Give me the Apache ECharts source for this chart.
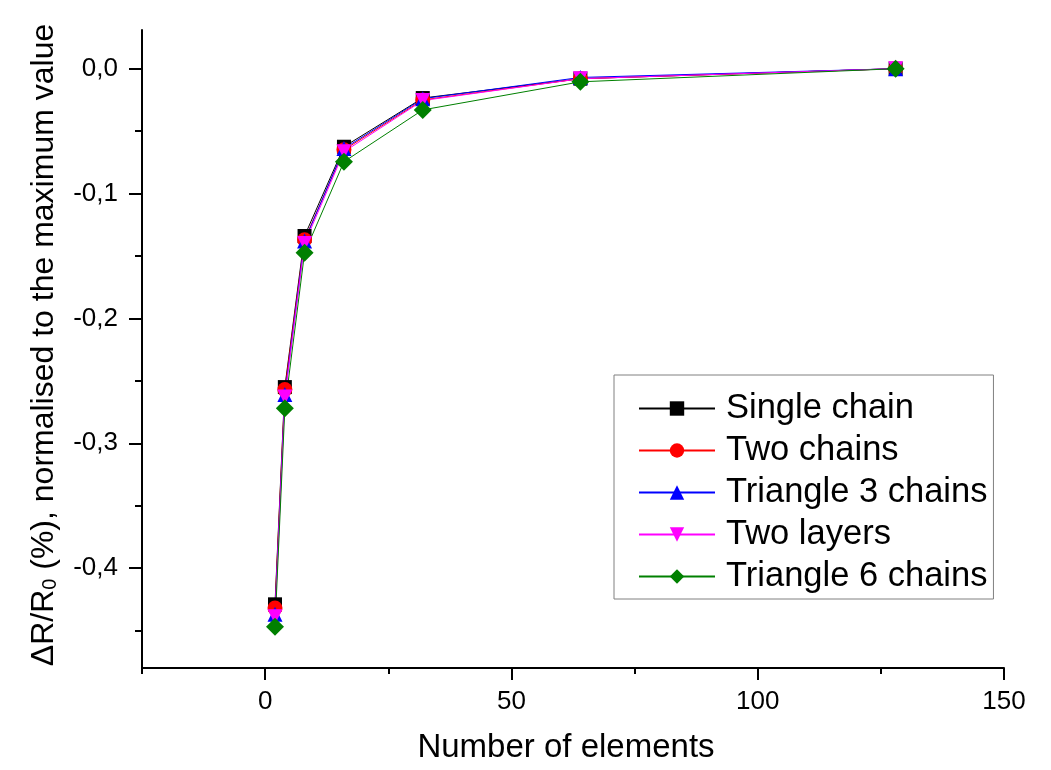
<!DOCTYPE html>
<html>
<head>
<meta charset="utf-8">
<title>Normalised resistance change</title>
<script src="https://cdn.jsdelivr.net/npm/echarts@6/dist/echarts.min.js"></script>
<style>
  html, body { margin: 0; padding: 0; background: #fff; }
  #chart { width: 1051px; height: 770px; }
</style>
</head>
<body>
<div id="chart"></div>
<script>
// number of elements (x)
const elements = [2, 4, 8, 16, 32, 64, 128]
// dR/R0 normalised to max value, one array per layout
const singleChain = [-0.429, -0.255, -0.134, -0.0625, -0.0235, -0.008, 0]
const twoChains = [-0.432, -0.257, -0.137, -0.065, -0.025, -0.008, 0]
const triangle3 = [-0.437, -0.261, -0.138, -0.064, -0.024, -0.007, 0]
const twoLayers = [-0.439, -0.263, -0.140, -0.0665, -0.0255, -0.008, 0]
const triangle6 = [-0.447, -0.272, -0.1475, -0.0745, -0.033, -0.0105, 0]

const seriesNames = ['Single chain', 'Two chains', 'Triangle 3 chains', 'Two layers', 'Triangle 6 chains']

// axis ticks
const xMajorTicks = [0, 50, 100, 150]
const xMinorTicks = [-25, 25, 75, 125]
const yMajorTicks = [0, -0.1, -0.2, -0.3, -0.4]
const yMinorTicks = [-0.05, -0.15, -0.25, -0.35, -0.45]

const downTriangle = 'path://M0,0 L10,0 L5,9 Z'

function pairs(ys) {
  return elements.map((x, i) => [x, ys[i]])
}

function makeSeries(name, ys, color, symbol, size) {
  return {
    name: name,
    type: 'line',
    data: pairs(ys),
    symbol: symbol,
    symbolSize: size,
    itemStyle: { color: color },
    lineStyle: { color: color, width: 1 },
    emphasis: { disabled: true }
  }
}

const chart = echarts.init(document.getElementById('chart'))
const font = 'Liberation Sans, Arial, sans-serif'

chart.setOption({
  animation: false,
  backgroundColor: '#fff',
  textStyle: { fontFamily: font, color: '#000' },
  grid: {
    left: 142,
    right: 47,
    top: 30,
    bottom: 102
  },
  legend: {
    orient: 'vertical',
    left: 614,
    top: 375,
    padding: [16, 6, 5, 24],
    itemGap: 7,
    itemWidth: 76,
    itemHeight: 18,
    borderColor: '#808080',
    borderWidth: 1,
    backgroundColor: '#fff',
    textStyle: { fontSize: 34.5, fontFamily: font, color: '#000', padding: [0, 0, 0, 6] },
    data: seriesNames
  },
  xAxis: [
    {
      type: 'value',
      min: -25,
      max: 150,
      name: 'Number of elements',
      nameLocation: 'middle',
      nameGap: 63,
      nameTextStyle: { fontSize: 33, fontFamily: font, color: '#000', padding: [0, 14, 0, 0] },
      splitLine: { show: false },
      axisLine: { show: true, onZero: false, lineStyle: { color: '#000', width: 2 } },
      axisTick: { show: true, length: 12, customValues: xMajorTicks, lineStyle: { color: '#000', width: 2 } },
      axisLabel: { fontSize: 26, margin: 21, color: '#000', customValues: xMajorTicks }
    },
    {
      // minor ticks only
      type: 'value',
      min: -25,
      max: 150,
      position: 'bottom',
      offset: 0,
      splitLine: { show: false },
      axisLine: { show: false, onZero: false },
      axisTick: { show: true, length: 6, customValues: xMinorTicks, lineStyle: { color: '#000', width: 2 } },
      axisLabel: { show: false }
    }
  ],
  yAxis: [
    {
      type: 'value',
      min: -0.48,
      max: 0.031,
      name: 'ΔR/R{sub|0} (%), normalised to the maximum value',
      nameLocation: 'middle',
      nameGap: 82,
      nameTextStyle: {
        fontSize: 32,
        fontFamily: font,
        color: '#000',
        padding: [0, 0, 0, 8],
        rich: {
          sub: { fontSize: 20, fontFamily: font, color: '#000', verticalAlign: 'bottom', padding: [10, 0, 0, 0] }
        }
      },
      splitLine: { show: false },
      axisLine: { show: true, onZero: false, lineStyle: { color: '#000', width: 2 } },
      axisTick: { show: true, length: 13, customValues: yMajorTicks, lineStyle: { color: '#000', width: 2 } },
      axisLabel: {
        fontSize: 26,
        margin: 24,
        color: '#000',
        customValues: yMajorTicks,
        formatter: function(v) {
          return (Math.abs(v) < 1e-9 ? 0 : v).toFixed(1).replace('.', ',')
        }
      }
    },
    {
      // minor ticks only
      type: 'value',
      min: -0.48,
      max: 0.031,
      position: 'left',
      offset: 0,
      splitLine: { show: false },
      axisLine: { show: false, onZero: false },
      axisTick: { show: true, length: 7, customValues: yMinorTicks, lineStyle: { color: '#000', width: 2 } },
      axisLabel: { show: false }
    }
  ],
  series: [
    makeSeries(seriesNames[0], singleChain, '#000000', 'rect', 14),
    makeSeries(seriesNames[1], twoChains, '#ff0000', 'circle', 15),
    makeSeries(seriesNames[2], triangle3, '#0000ff', 'triangle', 15),
    makeSeries(seriesNames[3], twoLayers, '#ff00ff', downTriangle, 15),
    makeSeries(seriesNames[4], triangle6, '#008000', 'diamond', 18)
  ]
})
</script>
</body>
</html>
